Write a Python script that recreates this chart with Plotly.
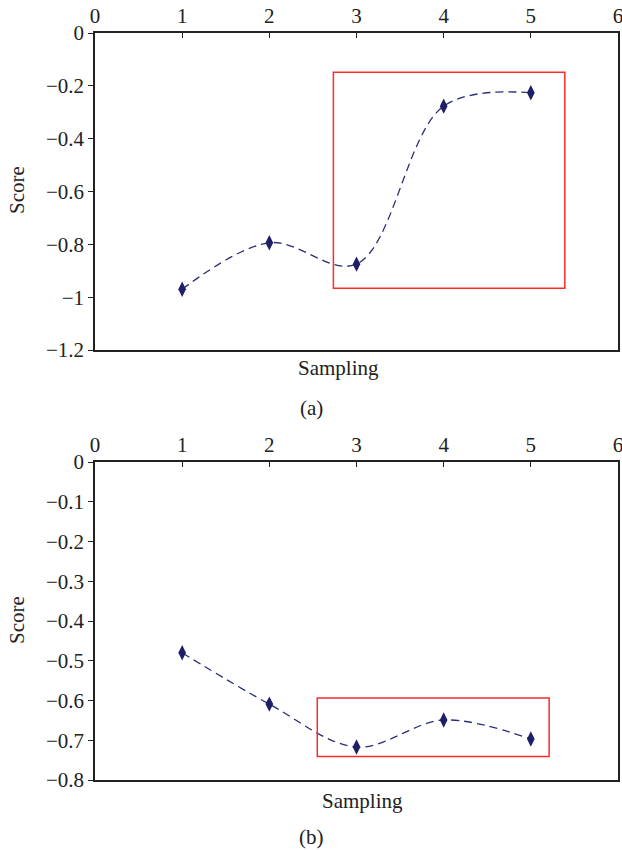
import plotly.graph_objects as go

# Data
sampling = [1, 2, 3, 4, 5]
score_a = [-0.97, -0.794, -0.875, -0.277, -0.226]
score_b = [-0.48, -0.609, -0.717, -0.649, -0.697]
x_ticks = [0, 1, 2, 3, 4, 5, 6]
y_ticks_a = [0, -0.2, -0.4, -0.6, -0.8, -1, -1.2]
y_ticks_b = [0, -0.1, -0.2, -0.3, -0.4, -0.5, -0.6, -0.7, -0.8]
rect_a = dict(x0=2.735, x1=5.39, y0=-0.149, y1=-0.966)
rect_b = dict(x0=2.55, x1=5.21, y0=-0.594, y1=-0.741)

FONT = "Liberation Serif"
LINE_COLOR = "#2b2d78"
MARK_COLOR = "#1e1f66"
AX_COLOR = "#222222"

fig = go.Figure()
for xa, ya, ys in [("x", "y", score_a), ("x2", "y2", score_b)]:
    fig.add_trace(go.Scatter(
        x=sampling, y=ys, xaxis=xa, yaxis=ya, mode="lines+markers",
        line=dict(color=LINE_COLOR, width=1.3, dash="8px,5px", shape="spline", smoothing=1.0),
        marker=dict(symbol="diamond-tall", size=11, color=MARK_COLOR),
        showlegend=False, hoverinfo="skip"))

xdom = [95 / 622, 618 / 622]
common_x = dict(range=[0, 6], tickvals=x_ticks, side="top", ticks="inside", ticklen=5,
                tickwidth=1.2, tickcolor=AX_COLOR, showline=True, linecolor=AX_COLOR,
                linewidth=1.5, mirror=True, showgrid=False, zeroline=False, automargin=False,
                ticklabeloverflow="allow",
                tickfont=dict(family=FONT, size=21, color="#222"), domain=xdom)
common_y = dict(ticks="outside", ticklen=5, tickwidth=1.2, tickcolor=AX_COLOR,
                showline=True, linecolor=AX_COLOR, linewidth=1.5, mirror=True,
                showgrid=False, zeroline=False, automargin=False,
                ticklabeloverflow="allow",
                tickfont=dict(family=FONT, size=21, color="#222"))

fig.update_layout(
    width=622, height=850, margin=dict(l=0, r=0, t=0, b=0, autoexpand=False),
    paper_bgcolor="white", plot_bgcolor="white",
    xaxis=dict(**common_x, anchor="y"),
    yaxis=dict(**common_y, range=[-1.2, 0], tickvals=y_ticks_a,
               domain=[1 - 350 / 850, 1 - 33 / 850], anchor="x"),
    xaxis2=dict(**common_x, anchor="y2"),
    yaxis2=dict(**common_y, range=[-0.8, 0], tickvals=y_ticks_b,
                domain=[1 - 780 / 850, 1 - 462 / 850], anchor="x2"),
)

for r, xr, yr in [(rect_a, "x", "y"), (rect_b, "x2", "y2")]:
    fig.add_shape(type="rect", xref=xr, yref=yr, x0=r["x0"], x1=r["x1"], y0=r["y0"], y1=r["y1"],
                  line=dict(color="#ff2a2a", width=1.5), fillcolor="rgba(0,0,0,0)")

def ann(text, x, y, angle=0):
    fig.add_annotation(text=text, xref="paper", yref="paper", x=x / 622, y=1 - y / 850,
                       xanchor="center", yanchor="middle", showarrow=False, textangle=angle,
                       font=dict(family=FONT, size=21, color="#222"))

ann("Score", 17, 190, -90)
ann("Score", 17, 620, -90)
ann("Sampling", 338, 368)
ann("Sampling", 362, 801)
ann("(a)", 311, 408)
ann("(b)", 311, 837)

fig.write_html(
    "out.html",
    config={"displayModeBar": False},
    post_script="document.body.style.margin='0';document.body.style.overflow='hidden';",
)
